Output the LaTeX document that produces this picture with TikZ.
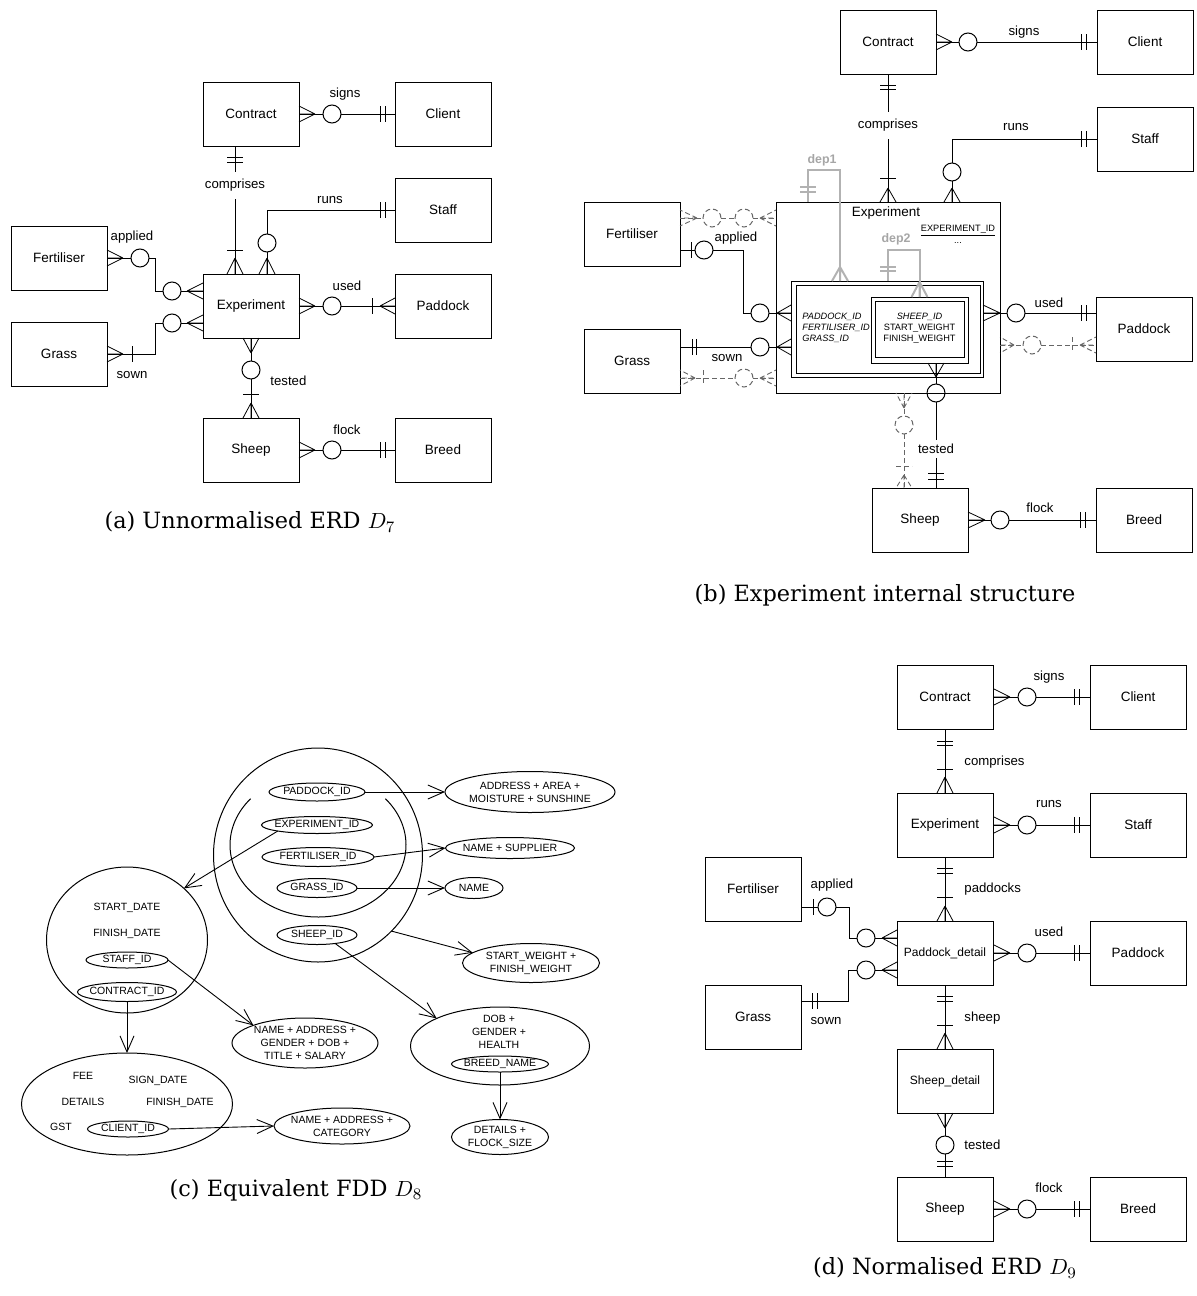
\documentclass[tikz,border=0pt]{standalone}
\usepackage[no-math]{fontspec}
\setmainfont{Liberation Sans}
\newfontfamily\capfont{DejaVu Serif}
\usetikzlibrary{shapes.geometric,arrows.meta,calc}

% crow's foot: [style]{apex x}{base x}{y}
\newcommand\crowH[4][]{\draw[foot,#1] (#2,#4) -- (#3,#4-8) (#2,#4) -- (#3,#4) (#2,#4) -- (#3,#4+8);}
% crow's foot: [style]{x}{apex y}{base y}
\newcommand\crowV[4][]{\draw[foot,#1] (#2,#3) -- (#2-8,#4) (#2,#3) -- (#2,#4) (#2,#3) -- (#2+8,#4);}
% tick across a horizontal line
\newcommand\barV[3][]{\draw[foot,#1] (#2,#3-8) -- (#2,#3+8);}
% tick across a vertical line
\newcommand\barH[3][]{\draw[foot,#1] (#2-8,#3) -- (#2+8,#3);}
% FDD oval with its text
\newcommand\fdnode[6]{\node[ov, minimum width=#4pt, minimum height=#5pt] (#1) at (#2,#3) {};
  \node[ft] (#1-t) at (#1.center) {#6};}

\begin{document}
\begin{tikzpicture}[x=0.5pt,y=-0.5pt,
  ent/.style={draw, line width=0.5pt, minimum width=48pt, minimum height=32pt,
    inner sep=0pt, outer sep=0pt, font=\fontsize{6.75}{8}\selectfont},
  entsm/.style={ent, font=\fontsize{6}{7}\selectfont},
  rel/.style={line width=0.5pt},
  foot/.style={line width=0.4pt},
  opt/.style={draw, circle, line width=0.5pt, minimum size=9pt, inner sep=0pt, outer sep=0pt},
  dsh/.style={line width=0.45pt, draw=black!60, dash pattern=on 2.5pt off 1.5pt},
  dopt/.style={opt, draw=black!60, dash pattern=on 2.5pt off 1.5pt},
  lbl/.style={font=\fontsize{6.6}{8}\selectfont, inner sep=0.5pt},
  gaplbl/.style={lbl, fill=white, minimum height=13.5pt, inner sep=0pt},
  dep/.style={line width=1pt, draw=black!30},
  deplbl/.style={font=\bfseries\fontsize{6.2}{7}\selectfont, text=black!35, inner sep=0pt},
  ov/.style={draw, ellipse, line width=0.5pt, inner sep=0pt, outer sep=0pt},
  ft/.style={font=\fontsize{5.25}{6.4}\selectfont, align=center, inner sep=0pt},
  inn/.style={font=\fontsize{4.6}{5.5}\selectfont, inner sep=0pt},
  fda/.style={line width=0.45pt, -{Straight Barb[length=8pt,width=7pt]}},
  box/.style={draw, line width=0.5pt, inner sep=0pt, outer sep=0pt},
  captxt/.style={font=\capfont\fontsize{11.2}{13}\selectfont, inner sep=0pt}]
\useasboundingbox (0,0) rectangle (1197,1296);

%% ================= (a) unnormalised ERD =================
\node[ent] (contractA) at (251,114) {Contract};
\node[ent] (clientA) at (443,114) {Client};
\node[ent] (staffA) at (443,210) {Staff};
\node[ent] (fertA) at (59,258) {Fertiliser};
\node[ent] (expA) at (251,306) {Experiment};
\node[ent] (paddockA) at (443,306) {Paddock};
\node[ent] (grassA) at (59,354) {Grass};
\node[ent] (sheepA) at (251,450) {Sheep};
\node[ent] (breedA) at (443,450) {Breed};

% signs
\node[opt] (oSignsA) at (332,114) {};
\draw[rel] (contractA.east) -- (oSignsA.west);
\draw[rel] (oSignsA.east) -- (clientA.west);
\crowH{315}{299}{114} \barV{380}{114} \barV{385}{114}
\node[lbl] (lSignsA) at (345,94) {signs};

% comprises
\node[gaplbl] (lCompA) at (235,185.5) {comprises};
\draw[rel] ([xshift=-8pt]contractA.south) -- (lCompA.north);
\draw[rel] (lCompA.south) -- ([xshift=-8pt]expA.north);
\barH{235}{157} \barH{235}{162} \barH{235}{250} \crowV{235}{258}{274}

% runs
\node[opt] (oRunsA) at (267,243) {};
\draw[rel] (staffA.west) -| (oRunsA.north);
\draw[rel] (oRunsA.south) -- ([xshift=8pt]expA.north);
\barV{380}{210} \barV{385}{210} \crowV{267}{258}{274}
\node[lbl] (lRunsA) at (330,200) {runs};

% applied
\node[opt] (oAppA) at (140,258) {};
\node[opt] (oAppA2) at (172,291) {};
\draw[rel] (fertA.east) -- (oAppA.west);
\draw[rel] (oAppA.east) -- ++(6,0) |- (oAppA2.west);
\draw[rel] (oAppA2.east) -- ([yshift=7.5pt]expA.west);
\crowH{123}{107}{258} \crowH{187}{203}{291}
\node[lbl] (lAppA) at (132,237) {applied};

% sown
\node[opt] (oSownA) at (172,323) {};
\draw[rel] (grassA.east) -- ++(48,0) |- (oSownA.west);
\draw[rel] (oSownA.east) -- ([yshift=-8.5pt]expA.west);
\crowH{123}{107}{354} \barV{132}{354} \crowH{187}{203}{323}
\node[lbl] (lSownA) at (132,375) {sown};

% used
\node[opt] (oUsedA) at (332,306) {};
\draw[rel] (expA.east) -- (oUsedA.west);
\draw[rel] (oUsedA.east) -- (paddockA.west);
\crowH{315}{299}{306} \barV{372}{306} \crowH{380}{395}{306}
\node[lbl] (lUsedA) at (347,286) {used};

% tested
\node[opt] (oTestA) at (251,370) {};
\draw[rel] (expA.south) -- (oTestA.north);
\draw[rel] (oTestA.south) -- (sheepA.north);
\crowV{251}{353}{338} \barH{251}{394} \crowV{251}{403}{418}
\node[lbl, anchor=west] (lTestA) at (269,381) {tested};

% flock
\node[opt] (oFlockA) at (332,450) {};
\draw[rel] (sheepA.east) -- (oFlockA.west);
\draw[rel] (oFlockA.east) -- (breedA.west);
\crowH{315}{299}{450} \barV{380}{450} \barV{385}{450}
\node[lbl] (lFlockA) at (347,430) {flock};

\node[captxt] (capA) at (250,522) {(a) Unnormalised ERD $D_7$};

%% ================= (b) Experiment internal structure =================
\node[ent] (contractB) at (888,42) {Contract};
\node[ent] (clientB) at (1145,42) {Client};
\node[ent] (staffB) at (1145,139) {Staff};
\node[ent] (fertB) at (632,234) {Fertiliser};
\node[ent] (grassB) at (632,361) {Grass};
\node[ent] (paddockB) at (1144,329) {Paddock};
\node[ent] (sheepB) at (920,520) {Sheep};
\node[ent] (breedB) at (1144,520) {Breed};
\node[box, minimum width=112pt, minimum height=95.5pt] (expB) at (888,297.5) {};
\node[lbl, font=\fontsize{6.75}{8}\selectfont] (tExpB) at (886,213) {Experiment};
\node[inn] (tKeyB) at (958,231) {\underline{EXPERIMENT\_ID}};
\node[inn] (tDotsB) at (958,243) {...};

% composite key boxes
\node[box, minimum width=96pt, minimum height=48pt] (pdB) at (887,329) {};
\node[box, minimum width=92pt, minimum height=44pt] (pdBi) at (888,329) {};
\node[box, minimum width=48.5pt, minimum height=33pt] (sdB) at (919.5,330) {};
\node[box, minimum width=44.5pt, minimum height=28pt] (sdBi) at (919.5,329) {};
\node[inn, align=left, anchor=west] (tPdB) at (802,328)
  {\textit{PADDOCK\_ID}\\\textit{FERTILISER\_ID}\\\textit{GRASS\_ID}};
\node[inn, align=center] (tSdB) at (919.5,328)
  {\textit{SHEEP\_ID}\\START\_WEIGHT\\FINISH\_WEIGHT};

% dependencies
\draw[dep] ([xshift=-40pt]expB.north) -- ++(0,-32) -| ([xshift=-23.5pt]pdB.north);
\crowV[dep]{840}{267}{281} \barH[dep]{808}{187} \barH[dep]{808}{192}
\node[deplbl] (lDep1) at (822,160) {dep1};
\draw[dep] ([xshift=0.5pt]pdB.north) -- ++(0,-31) -| (sdB.north);
\crowV[dep]{919.5}{282}{297} \barH[dep]{888}{267} \barH[dep]{888}{271}
\node[deplbl] (lDep2) at (896,239) {dep2};

% Fertiliser (dashed)
\node[dopt] (dF1) at (712,218) {};
\node[dopt] (dF2) at (744,218) {};
\draw[dsh] ([yshift=8pt]fertB.east) -- (dF1.west);
\draw[dsh] (dF1.east) -- (dF2.west);
\draw[dsh] (dF2.east) -- ([yshift=39.75pt]expB.west);
\crowH[dsh]{697}{680}{218} \crowH[dsh]{760}{776}{218}

% applied
\node[opt] (oAppB) at (704,250) {};
\node[opt] (oAppB2) at (760,313) {};
\draw[rel] ([yshift=-8pt]fertB.east) -- (oAppB.west);
\draw[rel] (oAppB.east) -- ++(30,0) |- (oAppB2.west);
\draw[rel] (oAppB2.east) -- ([yshift=8pt]pdB.west);
\barV{691}{250} \crowH{777}{791}{313}
\node[lbl] (lAppB) at (736,238) {applied};

% sown
\node[opt] (oSownB) at (760,347) {};
\draw[rel] ([yshift=7pt]grassB.east) -- (oSownB.west);
\draw[rel] (oSownB.east) -- ([yshift=-9pt]pdB.west);
\barV{692}{347} \barV{696}{347} \crowH{777}{791}{347}
\node[lbl] (lSownB) at (727,358) {sown};

% Grass (dashed)
\node[dopt] (dG1) at (744,378) {};
\draw[dsh] ([yshift=-8.5pt]grassB.east) -- (dG1.west);
\draw[dsh] (dG1.east) -- ([yshift=-40.25pt]expB.west);
\crowH[dsh]{695}{680}{378} \barV[dsh]{703}{378} \crowH[dsh]{760}{776}{378}

% used
\node[opt] (oUsedB) at (1016,313) {};
\draw[rel] ([yshift=8pt]pdB.east) -- (oUsedB.west);
\draw[rel] (oUsedB.east) -- ([yshift=8pt]paddockB.west);
\crowH{1000}{983}{313} \barV{1081}{313} \barV{1086}{313}
\node[lbl] (lUsedB) at (1049,303) {used};

% Paddock (dashed)
\node[dopt] (dP1) at (1032,345) {};
\draw[dsh] ([yshift=-23.75pt]expB.east) -- (dP1.west);
\draw[dsh] (dP1.east) -- ([yshift=-8pt]paddockB.west);
\crowH[dsh]{1014}{1000}{345} \barV[dsh]{1072}{345} \crowH[dsh]{1080}{1096}{345}

% runs
\node[opt] (oRunsB) at (952,172) {};
\draw[rel] (staffB.west) -| (oRunsB.north);
\draw[rel] (oRunsB.south) -- ([xshift=32pt]expB.north);
\barV{1081}{139} \barV{1086}{139} \crowV{952}{188}{202}
\node[lbl] (lRunsB) at (1016,127) {runs};

% comprises
\node[gaplbl] (lCompB) at (888,125.5) {comprises};
\draw[rel] (contractB.south) -- (lCompB.north);
\draw[rel] (lCompB.south) -- (expB.north);
\barH{888}{85} \barH{888}{89} \barH{888}{178} \crowV{888}{188}{202}

% signs
\node[opt] (oSignsB) at (968,42) {};
\draw[rel] (contractB.east) -- (oSignsB.west);
\draw[rel] (oSignsB.east) -- (clientB.west);
\crowH{952}{936}{42} \barV{1081}{42} \barV{1086}{42}
\node[lbl] (lSignsB) at (1024,32) {signs};

% tested
\node[opt] (oTestB) at (936,393) {};
\node[lbl, fill=white, minimum height=9pt, inner sep=0pt] (lTestB) at (936,449) {tested};
\draw[rel] ([xshift=8.25pt]sdB.south) -- (oTestB.north);
\draw[rel] (oTestB.south) -- (lTestB.north);
\draw[rel] (lTestB.south) -- ([xshift=8pt]sheepB.north);
\crowV{936}{377}{363} \barH{936}{473} \barH{936}{479}

% Sheep (dashed)
\node[dopt] (dS1) at (904,425) {};
\draw[dsh] ([xshift=8pt]expB.south) -- (dS1.north);
\draw[dsh] (dS1.south) -- ([xshift=-8pt]sheepB.north);
\crowV[dsh]{904}{408}{393} \barH[dsh]{904}{466} \crowV[dsh]{904}{475}{488}

% flock
\node[opt] (oFlockB) at (1000,520) {};
\draw[rel] (sheepB.east) -- (oFlockB.west);
\draw[rel] (oFlockB.east) -- (breedB.west);
\crowH{985}{968}{520} \barV{1080}{520} \barV{1085}{520}
\node[lbl] (lFlockB) at (1040,508) {flock};

\node[captxt] (capB) at (885,595) {(b) Experiment internal structure};

%% ================= (c) functional dependency diagram =================
\node[ov, minimum width=104.5pt, minimum height=107pt] (keyOuter) at (318,855) {};
\draw[line width=0.5pt] (318,845) ++(-40:88 and 72) arc[start angle=-40, end angle=220, x radius=88, y radius=72];

\fdnode{pid}{317}{792}{48}{9}{PADDOCK\_ID}
\fdnode{eid}{317}{825}{55.5}{8.5}{EXPERIMENT\_ID}
\fdnode{fid}{318}{857}{56}{9.5}{FERTILISER\_ID}
\fdnode{gid}{317}{888}{40}{9.5}{GRASS\_ID}
\fdnode{sid}{317}{935}{40}{9.5}{SHEEP\_ID}
\fdnode{pAttr}{530}{792}{85}{20.5}{ADDRESS + AREA +\\MOISTURE + SUNSHINE}
\fdnode{fAttr}{510}{848}{64.5}{10.5}{NAME + SUPPLIER}
\fdnode{gAttr}{474}{888}{29}{10.5}{NAME}
\fdnode{wAttr}{531}{963}{68.5}{19.5}{START\_WEIGHT +\\FINISH\_WEIGHT}

\node[ov, minimum width=80.5pt, minimum height=73pt] (eAttr) at (127,940) {};
\node[ft] (tSD) at (127,908) {START\_DATE};
\node[ft] (tFD) at (127,934) {FINISH\_DATE};
\fdnode{stid}{127}{960}{41}{8}{STAFF\_ID}
\fdnode{ctid}{127}{992}{49.5}{9.5}{CONTRACT\_ID}
\fdnode{stAttr}{305}{1043}{73}{25}{NAME + ADDRESS +\\GENDER + DOB +\\TITLE + SALARY}

\node[ov, minimum width=105.5pt, minimum height=51pt] (cAttr) at (127,1104) {};
\node[ft] (tFee) at (83,1076) {FEE};
\node[ft] (tSign) at (158,1081) {SIGN\_DATE};
\node[ft] (tDet) at (83,1102) {DETAILS};
\node[ft] (tFin) at (180,1103) {FINISH\_DATE};
\node[ft] (tGst) at (61,1127) {GST};
\fdnode{clid}{128}{1129}{40.5}{8}{CLIENT\_ID}
\fdnode{clAttr}{342}{1126}{68}{18}{NAME + ADDRESS +\\CATEGORY}

\node[ov, minimum width=89.5pt, minimum height=39pt] (shAttr) at (500,1046) {};
\node[ft] (tDob) at (499,1032) {DOB +\\GENDER +\\HEALTH};
\fdnode{bnid}{500}{1064}{48.5}{8}{BREED\_NAME}
\fdnode{brAttr}{500}{1137}{48.5}{17.5}{DETAILS +\\FLOCK\_SIZE}

\draw[fda] (pid.east) -- (pAttr.west);
\draw[fda] (fid.east) -- (fAttr.west);
\draw[fda] (gid.east) -- (gAttr.west);
\draw[fda] (keyOuter.-46) -- (wAttr.170);
\draw[fda] (sid.-25) -- (shAttr.north west);
\draw[fda] (eid.south west) -- (eAttr.north east);
\draw[fda] (stid.east) -- (stAttr.north west);
\draw[fda] (ctid.south) -- (cAttr.north);
\draw[fda] (clid.east) -- (clAttr.west);
\draw[fda] (bnid.south) -- (brAttr.north);

\node[captxt] (capC) at (296,1190) {(c) Equivalent FDD $D_8$};

%% ================= (d) normalised ERD =================
\node[ent] (contractD) at (945,697) {Contract};
\node[ent] (clientD) at (1138,697) {Client};
\node[ent] (expD) at (945,825) {Experiment};
\node[ent] (staffD) at (1138,825) {Staff};
\node[ent] (fertD) at (753,889) {Fertiliser};
\node[entsm] (pdD) at (945,953) {Paddock\_detail};
\node[ent] (paddockD) at (1138,953) {Paddock};
\node[ent] (grassD) at (753,1017) {Grass};
\node[entsm] (sdD) at (945,1081) {Sheep\_detail};
\node[ent] (sheepD) at (945,1209) {Sheep};
\node[ent] (breedD) at (1138,1209) {Breed};

% signs
\node[opt] (oSignsD) at (1027,697) {};
\draw[rel] (contractD.east) -- (oSignsD.west);
\draw[rel] (oSignsD.east) -- (clientD.west);
\crowH{1010}{994}{697} \barV{1074}{697} \barV{1079}{697}
\node[lbl] (lSignsD) at (1049,677) {signs};

% comprises
\draw[rel] (contractD.south) -- (expD.north);
\barH{945}{741} \barH{945}{745} \barH{945}{769} \crowV{945}{777}{793}
\node[lbl, anchor=west] (lCompD) at (963,762) {comprises};

% runs
\node[opt] (oRunsD) at (1027,825) {};
\draw[rel] (expD.east) -- (oRunsD.west);
\draw[rel] (oRunsD.east) -- (staffD.west);
\crowH{1010}{994}{825} \barV{1074}{825} \barV{1079}{825}
\node[lbl] (lRunsD) at (1049,804) {runs};

% paddocks
\draw[rel] (expD.south) -- (pdD.north);
\barH{945}{868} \barH{945}{873} \barH{945}{897} \crowV{945}{906}{921}
\node[lbl, anchor=west] (lPadsD) at (963,889) {paddocks};

% applied
\node[opt] (oAppD) at (827,907) {};
\node[opt] (oAppD2) at (866,938) {};
\draw[rel] ([yshift=-9pt]fertD.east) -- (oAppD.west);
\draw[rel] (oAppD.east) -- ++(13,0) |- (oAppD2.west);
\draw[rel] (oAppD2.east) -- ([yshift=7.5pt]pdD.west);
\barV{813}{907} \crowH{882}{897}{938}
\node[lbl] (lAppD) at (832,885) {applied};

% sown
\node[opt] (oSownD) at (866,970) {};
\draw[rel] ([yshift=8pt]grassD.east) -- ++(47,0) |- (oSownD.west);
\draw[rel] (oSownD.east) -- ([yshift=-8.5pt]pdD.west);
\barV{812}{1001} \barV{817}{1001} \crowH{882}{897}{970}
\node[lbl] (lSownD) at (826,1021) {sown};

% used
\node[opt] (oUsedD) at (1027,953) {};
\draw[rel] (pdD.east) -- (oUsedD.west);
\draw[rel] (oUsedD.east) -- (paddockD.west);
\crowH{1010}{994}{953} \barV{1074}{953} \barV{1079}{953}
\node[lbl] (lUsedD) at (1049,932) {used};

% sheep
\draw[rel] (pdD.south) -- (sdD.north);
\barH{945}{996} \barH{945}{1001} \barH{945}{1025} \crowV{945}{1033}{1049}
\node[lbl, anchor=west] (lSheepD) at (963,1018) {sheep};

% tested
\node[opt] (oTestD) at (945,1145) {};
\draw[rel] (sdD.south) -- (oTestD.north);
\draw[rel] (oTestD.south) -- (sheepD.north);
\crowV{945}{1128}{1113} \barH{945}{1161} \barH{945}{1166}
\node[lbl, anchor=west] (lTestD) at (963,1145) {tested};

% flock
\node[opt] (oFlockD) at (1027,1209) {};
\draw[rel] (sheepD.east) -- (oFlockD.west);
\draw[rel] (oFlockD.east) -- (breedD.west);
\crowH{1010}{994}{1209} \barV{1074}{1209} \barV{1079}{1209}
\node[lbl] (lFlockD) at (1049,1188) {flock};

\node[captxt] (capD) at (945,1268) {(d) Normalised ERD $D_9$};
\end{tikzpicture}
\end{document}
